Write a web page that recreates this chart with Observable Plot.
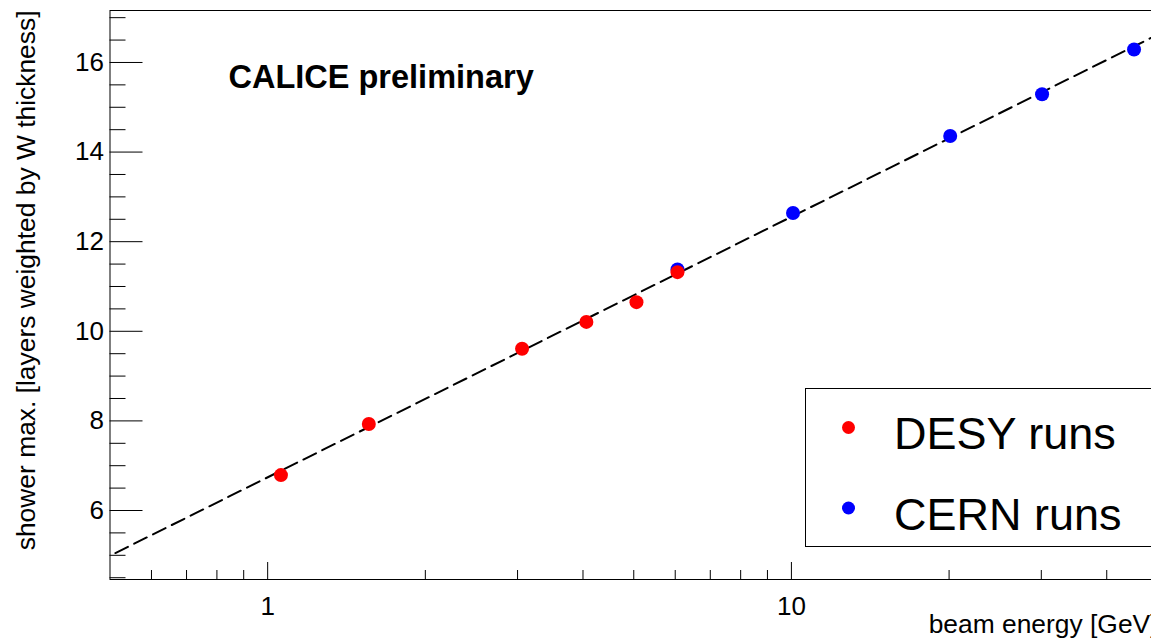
<!DOCTYPE html>
<html>
<head>
<meta charset="utf-8">
<script src="https://cdn.jsdelivr.net/npm/d3@7"></script>
<script src="https://cdn.jsdelivr.net/npm/@observablehq/plot@0.6"></script>
<style>
  html, body { margin: 0; padding: 0; background: white; overflow: hidden; }
  #chart { width: 1151px; height: 639px; overflow: hidden; }
  #chart svg { max-width: none !important; }
</style>
</head>
<body>
<div id="chart"></div>
<script>
// ---- data ----
const desyEnergy = [1.06, 1.56, 3.06, 4.06, 5.06, 6.06];
const desyShowerMax = [6.79, 7.93, 9.61, 10.21, 10.65, 11.32];
const cernEnergy = [6.06, 10.07, 20.1, 30.1, 45.1];
const cernShowerMax = [11.38, 12.64, 14.36, 15.29, 16.29];
const fitEnergy = [0.512, 50];
const fitShowerMax = [5.05, 16.62];

const xMajorTicks = [1, 10];
const xMinorTicks = [0.6, 0.7, 0.8, 0.9, 2, 3, 4, 5, 6, 7, 8, 9, 20, 30, 40, 50];
const yMajorTicks = [6, 8, 10, 12, 14, 16];
const yMinorTicks = [4.5, 5, 5.5, 6.5, 7, 7.5, 8.5, 9, 9.5, 10.5, 11, 11.5, 12.5, 13, 13.5, 14.5, 15, 15.5, 16.5, 17];

const legendLabels = ["DESY runs", "CERN runs"];
const legendColors = ["#ff0000", "#0000ff"];

const desy = desyEnergy.map((e, i) => ({e, v: desyShowerMax[i]}));
const cern = cernEnergy.map((e, i) => ({e, v: cernShowerMax[i]}));
const fit = fitEnergy.map((e, i) => ({e, v: fitShowerMax[i]}));

const W = 1157, H = 639;
const mL = 109.5, mR = 0, mT = 10, mB = 60;
const frameW = W - mL - mR, frameH = H - mT - mB;

const svg = Plot.plot({
  width: W,
  height: H,
  marginLeft: mL,
  marginRight: mR,
  marginTop: mT,
  marginBottom: mB,
  style: {fontFamily: "'Liberation Sans', Arial, sans-serif", fontSize: "26px", background: "white", color: "black", maxWidth: "none"},
  x: {type: "log", domain: [0.5, 50]},
  y: {domain: [4.46, 17.16]},
  marks: [
    Plot.frame({stroke: "black", strokeWidth: 1}),
    Plot.tickX(xMajorTicks, {x: d => d, insetTop: frameH - 17, stroke: "black", strokeWidth: 1}),
    Plot.tickX(xMinorTicks, {x: d => d, insetTop: frameH - 9, stroke: "black", strokeWidth: 1}),
    Plot.tickY(yMajorTicks, {y: d => d, insetRight: frameW - 33, stroke: "black", strokeWidth: 1}),
    Plot.tickY(yMinorTicks, {y: d => d, insetRight: frameW - 16, stroke: "black", strokeWidth: 1}),
    Plot.axisX({ticks: xMajorTicks, tickSize: 0, tickPadding: 17, tickFormat: d => String(d), label: null}),
    Plot.axisY({ticks: yMajorTicks, tickSize: 0, tickPadding: 6, tickFormat: d => String(d), label: null}),
    Plot.line(fit, {x: "e", y: "v", stroke: "black", strokeWidth: 2, strokeDasharray: "14,7"}),
    Plot.dot(cern, {x: "e", y: "v", r: 7, fill: legendColors[1], stroke: "none"}),
    Plot.dot(desy, {x: "e", y: "v", r: 7, fill: legendColors[0], stroke: "none"}),
    Plot.text(["beam energy [GeV]"], {frameAnchor: "bottom-right", textAnchor: "end", lineAnchor: "middle", dy: 45, fontSize: 26.4, fill: "black"}),
    Plot.text(["shower max. [layers weighted by W thickness]"], {frameAnchor: "top-left", textAnchor: "end", lineAnchor: "middle", rotate: -90, dx: 26.5 - mL, dy: 0, fontSize: 26.4, fill: "black"}),
    Plot.text(["CALICE preliminary"], {frameAnchor: "top-left", textAnchor: "start", lineAnchor: "middle", dx: 228 - mL, dy: 66.8, fontSize: 32.5, fontWeight: "bold", fill: "black"})
  ]
});

// legend box (ROOT TLegend style) inside the frame
const g = d3.select(svg).append("g");
g.append("rect")
  .attr("x", 805.5).attr("y", 388.5)
  .attr("width", 360).attr("height", 158)
  .attr("fill", "white").attr("stroke", "black").attr("stroke-width", 1);
legendLabels.forEach((lab, i) => {
  const cy = 427.5 + i * 80.5;
  g.append("circle").attr("cx", 848.5).attr("cy", cy).attr("r", 6.5).attr("fill", legendColors[i]);
  g.append("text").attr("x", 894).attr("y", cy + 21.5)
    .attr("text-anchor", "start")
    .attr("font-family", "'Liberation Sans', Arial, sans-serif")
    .attr("font-size", 45).attr("fill", "black").text(lab);
});

document.getElementById("chart").appendChild(svg);
</script>
</body>
</html>
